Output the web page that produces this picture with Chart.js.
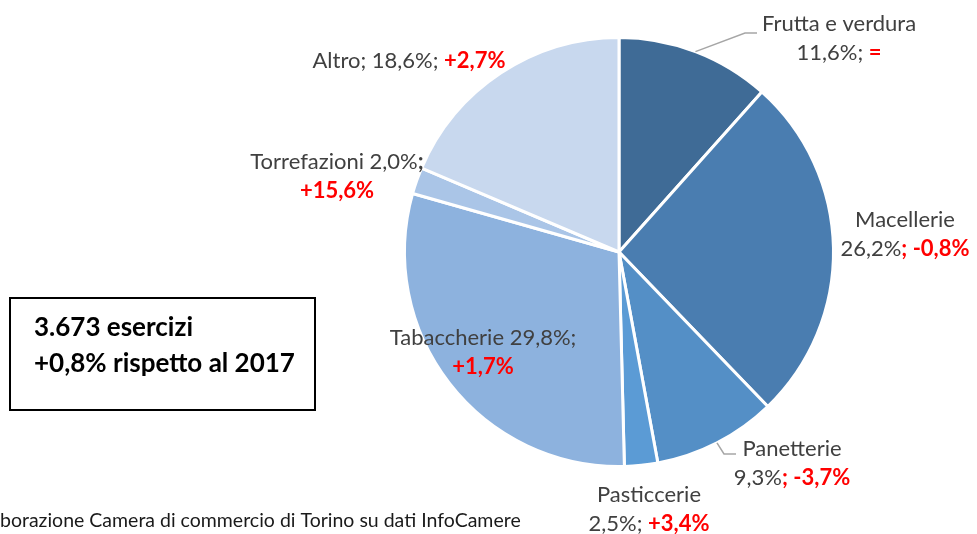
<!DOCTYPE html>
<html>
<head>
<meta charset="utf-8">
<script src="https://cdn.jsdelivr.net/npm/chart.js@4/dist/chart.umd.min.js"></script>
<style>
  html, body { margin: 0; padding: 0; background: #fff; }
  #wrap { width: 977px; height: 534px; position: relative; }
</style>
</head>
<body>
<div id="wrap"><canvas id="pie" width="977" height="534"></canvas></div>
<script>
// data
const categories = ["Frutta e verdura", "Macellerie", "Panetterie", "Pasticcerie", "Tabaccherie", "Torrefazioni", "Altro"];
const shares = [11.6, 26.2, 9.3, 2.5, 29.8, 2.0, 18.6];
const changes = ["=", "-0,8%", "-3,7%", "+3,4%", "+1,7%", "+15,6%", "+2,7%"];
const colors = ["#3F6B96", "#4A7DB0", "#548FC6", "#5B9BD5", "#8DB2DE", "#AAC5E7", "#C8D8EE"];

const totalText = "3.673 esercizi";
const deltaText = "+0,8% rispetto al 2017";
const sourceText = "borazione Camera di commercio di Torino su dati InfoCamere";

const GRAY = "#404040";
const RED = "#FF0000";
const FONT = "Lato, 'Open Sans', sans-serif";

const pct = v => v.toFixed(1).replace(".", ",") + "%";

// label text pieces per slice: [text, bold, color]
function labelLines(i) {
  const n = categories[i], p = pct(shares[i]), c = changes[i];
  switch (i) {
    case 0:
    case 3:
      return [[[n, false, GRAY]], [[p + "; ", false, GRAY], [c, true, RED]]];
    case 1:
    case 2:
      return [[[n, false, GRAY]], [[p, false, GRAY], ["; " + c, true, RED]]];
    case 4:
      return [[[n + " " + p + ";", false, GRAY]], [[c, true, RED]]];
    case 5:
      return [[[n + " " + p, false, GRAY], [";", true, GRAY]], [[c, true, RED]]];
    default:
      return [[[n + "; " + p + "; ", false, GRAY], [c, true, RED]]];
  }
}

// where each label sits (centre of text block, first line)
const labelPos = [
  { x: 839, y: 24 },
  { x: 905, y: 220 },
  { x: 792, y: 449 },
  { x: 649, y: 495 },
  { x: 483, y: 338 },
  { x: 337, y: 162 },
  { x: 409, y: 61 }
];
const leaders = { 0: [[745, 33], [757, 33]], 2: [[724, 454], [736, 454]] };

function drawLine(ctx, parts, cx, y, size) {
  let w = 0;
  parts.forEach(p => {
    ctx.font = (p[1] ? "bold " : "") + size + "px " + FONT;
    w += ctx.measureText(p[0]).width;
  });
  let x = cx - w / 2;
  parts.forEach(p => {
    ctx.font = (p[1] ? "bold " : "") + size + "px " + FONT;
    ctx.fillStyle = p[2];
    ctx.fillText(p[0], x, y);
    x += ctx.measureText(p[0]).width;
  });
}

const extras = {
  id: "extras",
  afterDraw(chart) {
    const ctx = chart.ctx;
    const arcs = chart.getDatasetMeta(0).data;
    ctx.save();
    ctx.textBaseline = "middle";

    // leader lines start from the slice's outer edge at mid angle
    Object.keys(leaders).forEach(k => {
      const a = arcs[k].getProps(["x", "y", "startAngle", "endAngle", "outerRadius"], true);
      const mid = (a.startAngle + a.endAngle) / 2;
      ctx.beginPath();
      ctx.moveTo(a.x + Math.cos(mid) * a.outerRadius, a.y + Math.sin(mid) * a.outerRadius);
      leaders[k].forEach(pt => ctx.lineTo(pt[0], pt[1]));
      ctx.strokeStyle = "#A6A6A6";
      ctx.lineWidth = 1.5;
      ctx.stroke();
    });

    categories.forEach((c, i) => {
      const lines = labelLines(i);
      lines.forEach((ln, j) => drawLine(ctx, ln, labelPos[i].x, labelPos[i].y + j * 29, 22));
    });

    // summary box
    ctx.strokeStyle = "#000";
    ctx.lineWidth = 2;
    ctx.strokeRect(10, 298, 305, 112);
    ctx.fillStyle = "#000";
    ctx.textAlign = "left";
    ctx.font = "bold 26px " + FONT;
    ctx.fillText(totalText, 34, 328);
    ctx.fillText(deltaText, 34, 364);

    ctx.font = "19.5px " + FONT;
    ctx.fillStyle = "#1a1a1a";
    ctx.fillText(sourceText, 0, 521);
    ctx.restore();
  }
};

new Chart(document.getElementById("pie"), {
  type: "pie",
  data: {
    labels: categories,
    datasets: [{
      data: shares,
      backgroundColor: colors,
      borderColor: "#fff",
      borderWidth: 3
    }]
  },
  options: {
    responsive: false,
    animation: false,
    layout: { padding: { top: 36, bottom: 66, left: 300, right: 39 } },
    plugins: { legend: { display: false }, tooltip: { enabled: false } }
  },
  plugins: [extras]
});
</script>
</body>
</html>
